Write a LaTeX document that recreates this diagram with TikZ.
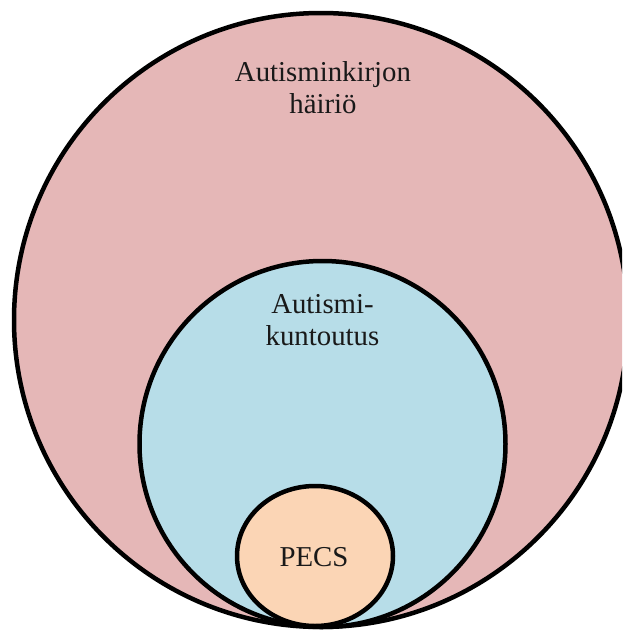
\documentclass[tikz,border=0pt]{standalone}
\usepackage{fontspec}
\setmainfont{Liberation Serif}
\usetikzlibrary{shapes.geometric}
\definecolor{asdpink}{HTML}{E5B7B7}
\definecolor{rehabblue}{HTML}{B7DDE8}
\definecolor{pecspeach}{HTML}{FBD5B5}
\tikzset{
  setbox/.style={draw=black, line width=4.5pt, inner sep=0pt, outer sep=0pt},
  lbl/.style={anchor=base, inner sep=0pt, font=\fontsize{28.8}{32}\selectfont, text=black!90}
}
\begin{document}
\begin{tikzpicture}[x=1pt, y=-1pt]
\useasboundingbox (0,0) rectangle (622,630);
\clip (0,0) rectangle (622,630);
\node[setbox, circle, fill=asdpink, minimum size=614pt] (asd) at (321,320) {};
\node[setbox, circle, fill=rehabblue, minimum size=366pt] (rehab) at (322.5,444) {};
\node[setbox, ellipse, fill=pecspeach, minimum width=156pt, minimum height=140pt] (pecs) at (315,556) {};
\node[lbl] (asdA) at (323,81) {Autisminkirjon};
\node[lbl] (asdB) at (323,113) {häiriö};
\node[lbl] (rehabA) at (322.5,313) {Autismi-};
\node[lbl] (rehabB) at (322.5,345) {kuntoutus};
\node[lbl] (pecsT) at (314,566) {PECS};
\end{tikzpicture}
\end{document}
